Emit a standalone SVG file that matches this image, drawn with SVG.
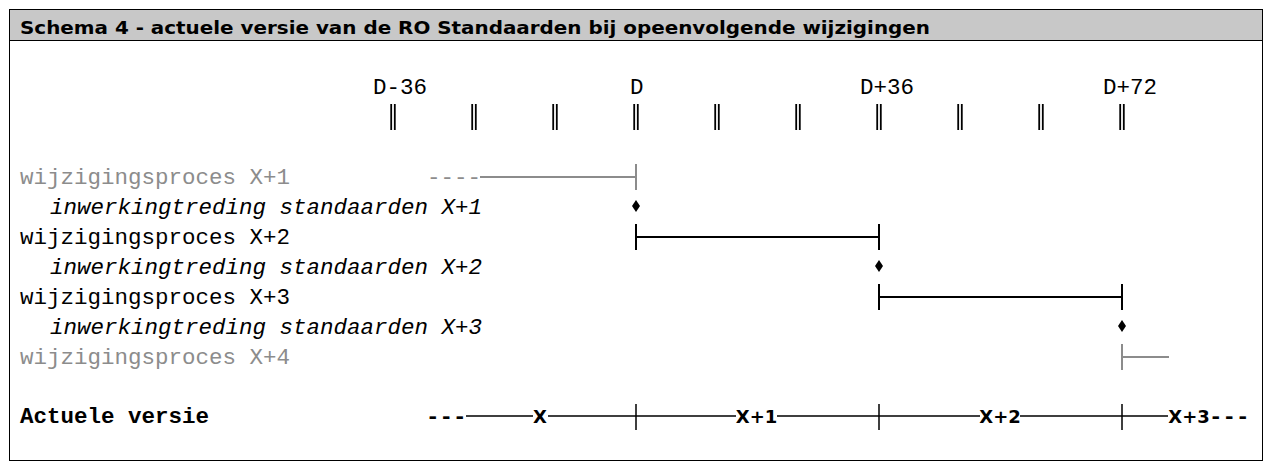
<svg xmlns="http://www.w3.org/2000/svg" width="1271" height="469" viewBox="0 0 1271 469">
<style>
.mono{font-family:"Liberation Mono","Courier New",monospace;font-size:22.5px;fill:#000}
.gray{fill:#8c8c8c}
.it{font-style:italic}
.bold{font-weight:bold}
.sb{font-family:"DejaVu Sans",Verdana,sans-serif;font-weight:bold;font-size:18px;fill:#000}
.ln{stroke:#000;stroke-width:2;fill:none}
.lng{stroke:#8c8c8c;stroke-width:2;fill:none}
.tk{stroke:#000;stroke-width:1.8}
</style>
<defs>
<g id="dtick"><line class="tk" x1="-1.8" y1="104" x2="-1.8" y2="130"/><line class="tk" x1="1.8" y1="104" x2="1.8" y2="130"/></g>
<path id="dia" d="M0,-6 L4,0 L0,6 L-4,0 Z" fill="#000"/>
</defs>
<rect x="9.5" y="9.5" width="1253" height="451" fill="#fff" stroke="#000"/>
<rect x="10" y="10" width="1252" height="30" fill="#c8c8c8"/>
<line x1="9.5" y1="40.5" x2="1262.5" y2="40.5" stroke="#000"/>
<text class="sb" x="20" y="34" textLength="910" lengthAdjust="spacingAndGlyphs">Schema 4 - actuele versie van de RO Standaarden bij opeenvolgende wijzigingen</text>
<g id="timeline">
<text class="mono" x="373" y="94">D-36</text>
<text class="mono" x="630" y="94">D</text>
<text class="mono" x="860" y="94">D+36</text>
<text class="mono" x="1103" y="94">D+72</text>
<use href="#dtick" x="393"/><use href="#dtick" x="474"/><use href="#dtick" x="555"/><use href="#dtick" x="636"/><use href="#dtick" x="717"/>
<use href="#dtick" x="798"/><use href="#dtick" x="879"/><use href="#dtick" x="960"/><use href="#dtick" x="1041"/><use href="#dtick" x="1122"/>
</g>
<g id="labels">
<text class="mono gray" x="20" y="184">wijzigingsproces X+1</text>
<text class="mono it" x="50" y="214">inwerkingtreding standaarden X+1</text>
<text class="mono" x="20" y="244">wijzigingsproces X+2</text>
<text class="mono it" x="50" y="274">inwerkingtreding standaarden X+2</text>
<text class="mono" x="20" y="304">wijzigingsproces X+3</text>
<text class="mono it" x="50" y="334">inwerkingtreding standaarden X+3</text>
<text class="mono gray" x="20" y="364">wijzigingsproces X+4</text>
<text class="mono bold" x="20" y="423">Actuele versie</text>
</g>
<g id="connectors">
<text class="mono gray" x="427" y="184">----</text>
<path class="lng" d="M480,177 H636 M636,164 V190"/>
<use href="#dia" x="636" y="206"/>
<path class="ln" d="M636,237 H879 M636,224 V250 M879,224 V250"/>
<use href="#dia" x="879" y="266"/>
<path class="ln" d="M879,297 H1122 M879,284 V310 M1122,284 V310"/>
<use href="#dia" x="1122" y="326"/>
<path class="lng" d="M1122,357 H1169 M1122,344 V370"/>
</g>
<g id="actueel">
<text class="mono bold" x="426" y="423">---</text>
<path d="M466,416 H533 M548,416 H736 M777,416 H980 M1020,416 H1168" stroke="#000" stroke-width="1.5" fill="none"/>
<path d="M636,404 V430 M879,404 V430 M1122,404 V430" stroke="#000" stroke-width="1.5"/>
<text class="sb" x="540" y="423" text-anchor="middle">X</text>
<text class="sb" x="756.5" y="423" text-anchor="middle">X+1</text>
<text class="sb" x="1000" y="423" text-anchor="middle">X+2</text>
<text class="sb" x="1189" y="423" text-anchor="middle">X+3</text>
<text class="mono bold" x="1209" y="423">---</text>
</g>
</svg>
